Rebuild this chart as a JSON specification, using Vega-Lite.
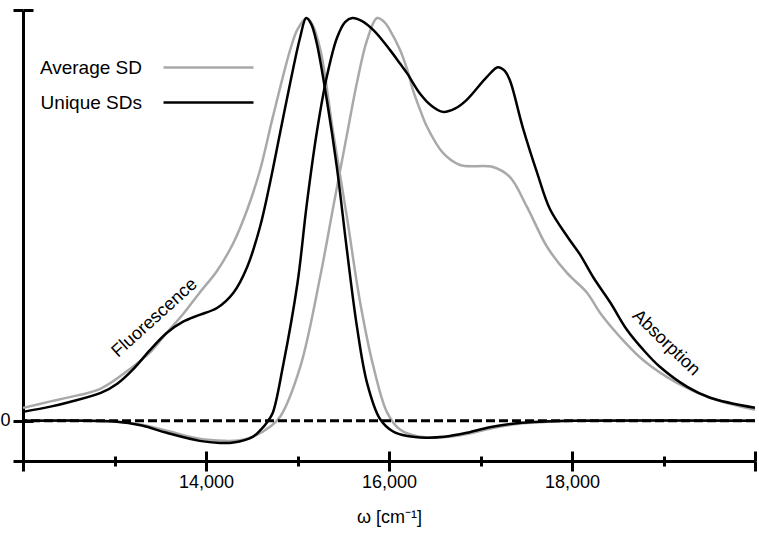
{
  "$schema": "https://vega.github.io/schema/vega-lite/v6.json",
  "width": 732,
  "height": 451,
  "autosize": {"type": "none"},
  "padding": {"left": 23, "top": 10, "right": 4, "bottom": 77},
  "background": "white",
  "config": {
    "view": {"stroke": null},
    "font": "Liberation Sans",
    "axis": {
      "grid": false,
      "domainColor": "black",
      "domainWidth": 3,
      "domainCap": "butt",
      "tickColor": "black",
      "tickWidth": 3,
      "tickCap": "butt",
      "labelColor": "black",
      "labelFontSize": 18,
      "labelFont": "Liberation Sans",
      "titleFontSize": 18,
      "titleFont": "Liberation Sans",
      "titleFontWeight": "normal",
      "titleColor": "black"
    },
    "legend": {
      "labelFont": "Liberation Sans",
      "labelFontSize": 19,
      "labelColor": "black"
    }
  },
  "datasets": {
    "curves": [
      {"w": 12000, "v": 0.032, "s": "Average SD", "b": "Fluorescence"},
      {"w": 12300, "v": 0.048, "s": "Average SD", "b": "Fluorescence"},
      {"w": 12500, "v": 0.058, "s": "Average SD", "b": "Fluorescence"},
      {"w": 12850, "v": 0.08, "s": "Average SD", "b": "Fluorescence"},
      {"w": 13200, "v": 0.134, "s": "Average SD", "b": "Fluorescence"},
      {"w": 13400, "v": 0.172, "s": "Average SD", "b": "Fluorescence"},
      {"w": 13570, "v": 0.218, "s": "Average SD", "b": "Fluorescence"},
      {"w": 13750, "v": 0.265, "s": "Average SD", "b": "Fluorescence"},
      {"w": 13930, "v": 0.318, "s": "Average SD", "b": "Fluorescence"},
      {"w": 14120, "v": 0.372, "s": "Average SD", "b": "Fluorescence"},
      {"w": 14300, "v": 0.442, "s": "Average SD", "b": "Fluorescence"},
      {"w": 14450, "v": 0.524, "s": "Average SD", "b": "Fluorescence"},
      {"w": 14590, "v": 0.622, "s": "Average SD", "b": "Fluorescence"},
      {"w": 14730, "v": 0.754, "s": "Average SD", "b": "Fluorescence"},
      {"w": 14920, "v": 0.921, "s": "Average SD", "b": "Fluorescence"},
      {"w": 15000, "v": 0.972, "s": "Average SD", "b": "Fluorescence"},
      {"w": 15100, "v": 1.0, "s": "Average SD", "b": "Fluorescence"},
      {"w": 15160, "v": 0.985, "s": "Average SD", "b": "Fluorescence"},
      {"w": 15250, "v": 0.921, "s": "Average SD", "b": "Fluorescence"},
      {"w": 15390, "v": 0.715, "s": "Average SD", "b": "Fluorescence"},
      {"w": 15540, "v": 0.506, "s": "Average SD", "b": "Fluorescence"},
      {"w": 15680, "v": 0.3, "s": "Average SD", "b": "Fluorescence"},
      {"w": 15830, "v": 0.134, "s": "Average SD", "b": "Fluorescence"},
      {"w": 15980, "v": 0.02, "s": "Average SD", "b": "Fluorescence"},
      {"w": 16120, "v": -0.022, "s": "Average SD", "b": "Fluorescence"},
      {"w": 16340, "v": -0.04, "s": "Average SD", "b": "Fluorescence"},
      {"w": 16600, "v": -0.041, "s": "Average SD", "b": "Fluorescence"},
      {"w": 16850, "v": -0.033, "s": "Average SD", "b": "Fluorescence"},
      {"w": 17100, "v": -0.02, "s": "Average SD", "b": "Fluorescence"},
      {"w": 17400, "v": -0.008, "s": "Average SD", "b": "Fluorescence"},
      {"w": 17700, "v": -0.003, "s": "Average SD", "b": "Fluorescence"},
      {"w": 18000, "v": 0, "s": "Average SD", "b": "Fluorescence"},
      {"w": 20000, "v": 0, "s": "Average SD", "b": "Fluorescence"},

      {"w": 12000, "v": 0, "s": "Average SD", "b": "Absorption"},
      {"w": 13000, "v": -0.002, "s": "Average SD", "b": "Absorption"},
      {"w": 13300, "v": -0.01, "s": "Average SD", "b": "Absorption"},
      {"w": 13570, "v": -0.025, "s": "Average SD", "b": "Absorption"},
      {"w": 13930, "v": -0.045, "s": "Average SD", "b": "Absorption"},
      {"w": 14200, "v": -0.05, "s": "Average SD", "b": "Absorption"},
      {"w": 14350, "v": -0.049, "s": "Average SD", "b": "Absorption"},
      {"w": 14510, "v": -0.04, "s": "Average SD", "b": "Absorption"},
      {"w": 14700, "v": -0.015, "s": "Average SD", "b": "Absorption"},
      {"w": 14810, "v": 0.01, "s": "Average SD", "b": "Absorption"},
      {"w": 15030, "v": 0.134, "s": "Average SD", "b": "Absorption"},
      {"w": 15250, "v": 0.36, "s": "Average SD", "b": "Absorption"},
      {"w": 15390, "v": 0.53, "s": "Average SD", "b": "Absorption"},
      {"w": 15540, "v": 0.71, "s": "Average SD", "b": "Absorption"},
      {"w": 15650, "v": 0.84, "s": "Average SD", "b": "Absorption"},
      {"w": 15760, "v": 0.945, "s": "Average SD", "b": "Absorption"},
      {"w": 15870, "v": 1.0, "s": "Average SD", "b": "Absorption"},
      {"w": 15950, "v": 0.99, "s": "Average SD", "b": "Absorption"},
      {"w": 16010, "v": 0.97, "s": "Average SD", "b": "Absorption"},
      {"w": 16120, "v": 0.921, "s": "Average SD", "b": "Absorption"},
      {"w": 16200, "v": 0.871, "s": "Average SD", "b": "Absorption"},
      {"w": 16262, "v": 0.821, "s": "Average SD", "b": "Absorption"},
      {"w": 16340, "v": 0.772, "s": "Average SD", "b": "Absorption"},
      {"w": 16415, "v": 0.73, "s": "Average SD", "b": "Absorption"},
      {"w": 16590, "v": 0.665, "s": "Average SD", "b": "Absorption"},
      {"w": 16776, "v": 0.635, "s": "Average SD", "b": "Absorption"},
      {"w": 17137, "v": 0.63, "s": "Average SD", "b": "Absorption"},
      {"w": 17322, "v": 0.605, "s": "Average SD", "b": "Absorption"},
      {"w": 17508, "v": 0.531, "s": "Average SD", "b": "Absorption"},
      {"w": 17727, "v": 0.432, "s": "Average SD", "b": "Absorption"},
      {"w": 17945, "v": 0.367, "s": "Average SD", "b": "Absorption"},
      {"w": 18164, "v": 0.318, "s": "Average SD", "b": "Absorption"},
      {"w": 18306, "v": 0.268, "s": "Average SD", "b": "Absorption"},
      {"w": 18525, "v": 0.208, "s": "Average SD", "b": "Absorption"},
      {"w": 18776, "v": 0.151, "s": "Average SD", "b": "Absorption"},
      {"w": 19148, "v": 0.094, "s": "Average SD", "b": "Absorption"},
      {"w": 19508, "v": 0.057, "s": "Average SD", "b": "Absorption"},
      {"w": 20000, "v": 0.027, "s": "Average SD", "b": "Absorption"},

      {"w": 12000, "v": 0.022, "s": "Unique SDs", "b": "Fluorescence"},
      {"w": 12300, "v": 0.035, "s": "Unique SDs", "b": "Fluorescence"},
      {"w": 12500, "v": 0.046, "s": "Unique SDs", "b": "Fluorescence"},
      {"w": 12850, "v": 0.069, "s": "Unique SDs", "b": "Fluorescence"},
      {"w": 13030, "v": 0.092, "s": "Unique SDs", "b": "Fluorescence"},
      {"w": 13200, "v": 0.127, "s": "Unique SDs", "b": "Fluorescence"},
      {"w": 13390, "v": 0.176, "s": "Unique SDs", "b": "Fluorescence"},
      {"w": 13570, "v": 0.218, "s": "Unique SDs", "b": "Fluorescence"},
      {"w": 13750, "v": 0.246, "s": "Unique SDs", "b": "Fluorescence"},
      {"w": 13930, "v": 0.263, "s": "Unique SDs", "b": "Fluorescence"},
      {"w": 14120, "v": 0.28, "s": "Unique SDs", "b": "Fluorescence"},
      {"w": 14300, "v": 0.318, "s": "Unique SDs", "b": "Fluorescence"},
      {"w": 14450, "v": 0.382, "s": "Unique SDs", "b": "Fluorescence"},
      {"w": 14590, "v": 0.481, "s": "Unique SDs", "b": "Fluorescence"},
      {"w": 14700, "v": 0.591, "s": "Unique SDs", "b": "Fluorescence"},
      {"w": 14810, "v": 0.715, "s": "Unique SDs", "b": "Fluorescence"},
      {"w": 14920, "v": 0.839, "s": "Unique SDs", "b": "Fluorescence"},
      {"w": 15030, "v": 0.953, "s": "Unique SDs", "b": "Fluorescence"},
      {"w": 15095, "v": 1.0, "s": "Unique SDs", "b": "Fluorescence"},
      {"w": 15150, "v": 0.985, "s": "Unique SDs", "b": "Fluorescence"},
      {"w": 15210, "v": 0.938, "s": "Unique SDs", "b": "Fluorescence"},
      {"w": 15320, "v": 0.797, "s": "Unique SDs", "b": "Fluorescence"},
      {"w": 15430, "v": 0.63, "s": "Unique SDs", "b": "Fluorescence"},
      {"w": 15540, "v": 0.424, "s": "Unique SDs", "b": "Fluorescence"},
      {"w": 15650, "v": 0.233, "s": "Unique SDs", "b": "Fluorescence"},
      {"w": 15760, "v": 0.094, "s": "Unique SDs", "b": "Fluorescence"},
      {"w": 15900, "v": 0.005, "s": "Unique SDs", "b": "Fluorescence"},
      {"w": 16040, "v": -0.026, "s": "Unique SDs", "b": "Fluorescence"},
      {"w": 16200, "v": -0.038, "s": "Unique SDs", "b": "Fluorescence"},
      {"w": 16400, "v": -0.042, "s": "Unique SDs", "b": "Fluorescence"},
      {"w": 16600, "v": -0.04, "s": "Unique SDs", "b": "Fluorescence"},
      {"w": 16850, "v": -0.03, "s": "Unique SDs", "b": "Fluorescence"},
      {"w": 17100, "v": -0.016, "s": "Unique SDs", "b": "Fluorescence"},
      {"w": 17400, "v": -0.006, "s": "Unique SDs", "b": "Fluorescence"},
      {"w": 17700, "v": -0.002, "s": "Unique SDs", "b": "Fluorescence"},
      {"w": 18000, "v": 0, "s": "Unique SDs", "b": "Fluorescence"},
      {"w": 20000, "v": 0, "s": "Unique SDs", "b": "Fluorescence"},

      {"w": 12000, "v": 0, "s": "Unique SDs", "b": "Absorption"},
      {"w": 13000, "v": -0.002, "s": "Unique SDs", "b": "Absorption"},
      {"w": 13300, "v": -0.012, "s": "Unique SDs", "b": "Absorption"},
      {"w": 13570, "v": -0.03, "s": "Unique SDs", "b": "Absorption"},
      {"w": 13930, "v": -0.05, "s": "Unique SDs", "b": "Absorption"},
      {"w": 14150, "v": -0.055, "s": "Unique SDs", "b": "Absorption"},
      {"w": 14300, "v": -0.054, "s": "Unique SDs", "b": "Absorption"},
      {"w": 14510, "v": -0.04, "s": "Unique SDs", "b": "Absorption"},
      {"w": 14600, "v": -0.022, "s": "Unique SDs", "b": "Absorption"},
      {"w": 14670, "v": -0.003, "s": "Unique SDs", "b": "Absorption"},
      {"w": 14730, "v": 0.02, "s": "Unique SDs", "b": "Absorption"},
      {"w": 14840, "v": 0.134, "s": "Unique SDs", "b": "Absorption"},
      {"w": 15000, "v": 0.342, "s": "Unique SDs", "b": "Absorption"},
      {"w": 15100, "v": 0.535, "s": "Unique SDs", "b": "Absorption"},
      {"w": 15210, "v": 0.715, "s": "Unique SDs", "b": "Absorption"},
      {"w": 15320, "v": 0.854, "s": "Unique SDs", "b": "Absorption"},
      {"w": 15430, "v": 0.95, "s": "Unique SDs", "b": "Absorption"},
      {"w": 15520, "v": 0.99, "s": "Unique SDs", "b": "Absorption"},
      {"w": 15600, "v": 1.0, "s": "Unique SDs", "b": "Absorption"},
      {"w": 15700, "v": 0.993, "s": "Unique SDs", "b": "Absorption"},
      {"w": 15830, "v": 0.97, "s": "Unique SDs", "b": "Absorption"},
      {"w": 16010, "v": 0.921, "s": "Unique SDs", "b": "Absorption"},
      {"w": 16120, "v": 0.887, "s": "Unique SDs", "b": "Absorption"},
      {"w": 16200, "v": 0.862, "s": "Unique SDs", "b": "Absorption"},
      {"w": 16340, "v": 0.812, "s": "Unique SDs", "b": "Absorption"},
      {"w": 16460, "v": 0.783, "s": "Unique SDs", "b": "Absorption"},
      {"w": 16590, "v": 0.767, "s": "Unique SDs", "b": "Absorption"},
      {"w": 16720, "v": 0.775, "s": "Unique SDs", "b": "Absorption"},
      {"w": 16850, "v": 0.797, "s": "Unique SDs", "b": "Absorption"},
      {"w": 17070, "v": 0.854, "s": "Unique SDs", "b": "Absorption"},
      {"w": 17190, "v": 0.878, "s": "Unique SDs", "b": "Absorption"},
      {"w": 17260, "v": 0.87, "s": "Unique SDs", "b": "Absorption"},
      {"w": 17320, "v": 0.846, "s": "Unique SDs", "b": "Absorption"},
      {"w": 17460, "v": 0.73, "s": "Unique SDs", "b": "Absorption"},
      {"w": 17620, "v": 0.615, "s": "Unique SDs", "b": "Absorption"},
      {"w": 17760, "v": 0.525, "s": "Unique SDs", "b": "Absorption"},
      {"w": 17950, "v": 0.457, "s": "Unique SDs", "b": "Absorption"},
      {"w": 18090, "v": 0.412, "s": "Unique SDs", "b": "Absorption"},
      {"w": 18230, "v": 0.357, "s": "Unique SDs", "b": "Absorption"},
      {"w": 18420, "v": 0.293, "s": "Unique SDs", "b": "Absorption"},
      {"w": 18600, "v": 0.226, "s": "Unique SDs", "b": "Absorption"},
      {"w": 18780, "v": 0.176, "s": "Unique SDs", "b": "Absorption"},
      {"w": 18960, "v": 0.134, "s": "Unique SDs", "b": "Absorption"},
      {"w": 19260, "v": 0.084, "s": "Unique SDs", "b": "Absorption"},
      {"w": 19510, "v": 0.057, "s": "Unique SDs", "b": "Absorption"},
      {"w": 20000, "v": 0.032, "s": "Unique SDs", "b": "Absorption"}
    ]
  },
  "layer": [
    {
      "data": {"name": "curves"},
      "mark": {"type": "line", "strokeWidth": 2.5, "interpolate": "catmull-rom"},
      "encoding": {
        "x": {
          "field": "w", "type": "quantitative",
          "scale": {"domain": [12000, 20000], "nice": false, "zero": false},
          "axis": {
            "orient": "bottom",
            "values": [12000, 14000, 16000, 18000, 20000],
            "tickSize": 10,
            "labelPadding": 2,
            "labelFlush": false,
            "labelOverlap": false,
            "labelExpr": "(datum.value == 12000 || datum.value == 20000) ? '' : format(datum.value, ',')",
            "title": "ω [cm⁻¹]",
            "titlePadding": 17
          }
        },
        "y": {
          "field": "v", "type": "quantitative",
          "scale": {"domain": [-0.1, 1.02], "nice": false, "zero": false},
          "axis": {
            "orient": "left",
            "values": [-0.1, 0, 1.02],
            "tickSize": 10,
            "labelPadding": 3,
            "labelExpr": "datum.value == 0 ? '0' : ''",
            "title": null
          }
        },
        "color": {
          "field": "s", "type": "nominal",
          "scale": {"domain": ["Average SD", "Unique SDs"], "range": ["#a9a9a9", "#000000"]},
          "legend": {
            "orient": "none",
            "legendX": 175,
            "legendY": 47,
            "title": null,
            "padding": 0,
            "symbolType": "M-5,0H5",
            "symbolSize": 324,
            "symbolStrokeWidth": 2.5,
            "labelAlign": "right",
            "labelOffset": -77,
            "rowPadding": 14
          }
        },
        "detail": {"field": "b"}
      }
    },
    {
      "data": {"name": "curves"},
      "mark": {"type": "point", "opacity": 0},
      "encoding": {
        "x": {
          "field": "w", "type": "quantitative",
          "scale": {"domain": [12000, 20000], "nice": false, "zero": false},
          "axis": {"orient": "bottom", "values": [12000, 14000, 16000, 18000, 20000], "tickSize": -10, "labels": false, "domain": false, "title": null}
        },
        "y": {
          "field": "v", "type": "quantitative",
          "scale": {"domain": [-0.1, 1.02], "nice": false, "zero": false},
          "axis": {"orient": "left", "values": [-0.1, 0, 1.02], "tickSize": -10, "labels": false, "domain": false, "title": null}
        }
      }
    },
    {
      "data": {"name": "curves"},
      "mark": {"type": "point", "opacity": 0},
      "encoding": {
        "x": {
          "field": "w", "type": "quantitative",
          "scale": {"domain": [12000, 20000], "nice": false, "zero": false},
          "axis": {"orient": "bottom", "values": [13000, 15000, 17000, 19000], "tickSize": 5, "labels": false, "domain": false, "title": null}
        },
        "y": {
          "field": "v", "type": "quantitative",
          "scale": {"domain": [-0.1, 1.02], "nice": false, "zero": false},
          "axis": null
        }
      }
    },
    {
      "data": {"name": "curves"},
      "mark": {"type": "point", "opacity": 0},
      "encoding": {
        "x": {
          "field": "w", "type": "quantitative",
          "scale": {"domain": [12000, 20000], "nice": false, "zero": false},
          "axis": {"orient": "bottom", "values": [13000, 15000, 17000, 19000], "tickSize": -5, "labels": false, "domain": false, "title": null}
        },
        "y": {
          "field": "v", "type": "quantitative",
          "scale": {"domain": [-0.1, 1.02], "nice": false, "zero": false},
          "axis": null
        }
      }
    },
    {
      "data": {"values": [{"zero": 0}]},
      "mark": {"type": "rule", "strokeDash": [9, 4], "strokeWidth": 3, "color": "black"},
      "encoding": {
        "y": {"field": "zero", "type": "quantitative", "scale": {"domain": [-0.1, 1.02], "nice": false, "zero": false}, "axis": null}
      }
    },
    {
      "data": {"values": [{"w": 13440, "v": 0.255, "label": "Fluorescence"}]},
      "mark": {"type": "text", "angle": 318, "fontSize": 18, "font": "Liberation Sans", "color": "black", "align": "center", "baseline": "middle"},
      "encoding": {
        "x": {"field": "w", "type": "quantitative", "scale": {"domain": [12000, 20000], "nice": false, "zero": false}, "axis": null},
        "y": {"field": "v", "type": "quantitative", "scale": {"domain": [-0.1, 1.02], "nice": false, "zero": false}, "axis": null},
        "text": {"field": "label"}
      }
    },
    {
      "data": {"values": [{"w": 19027, "v": 0.193, "label": "Absorption"}]},
      "mark": {"type": "text", "angle": 44, "fontSize": 18, "font": "Liberation Sans", "color": "black", "align": "center", "baseline": "middle"},
      "encoding": {
        "x": {"field": "w", "type": "quantitative", "scale": {"domain": [12000, 20000], "nice": false, "zero": false}, "axis": null},
        "y": {"field": "v", "type": "quantitative", "scale": {"domain": [-0.1, 1.02], "nice": false, "zero": false}, "axis": null},
        "text": {"field": "label"}
      }
    }
  ],
  "resolve": {"axis": {"x": "independent", "y": "independent"}}
}
